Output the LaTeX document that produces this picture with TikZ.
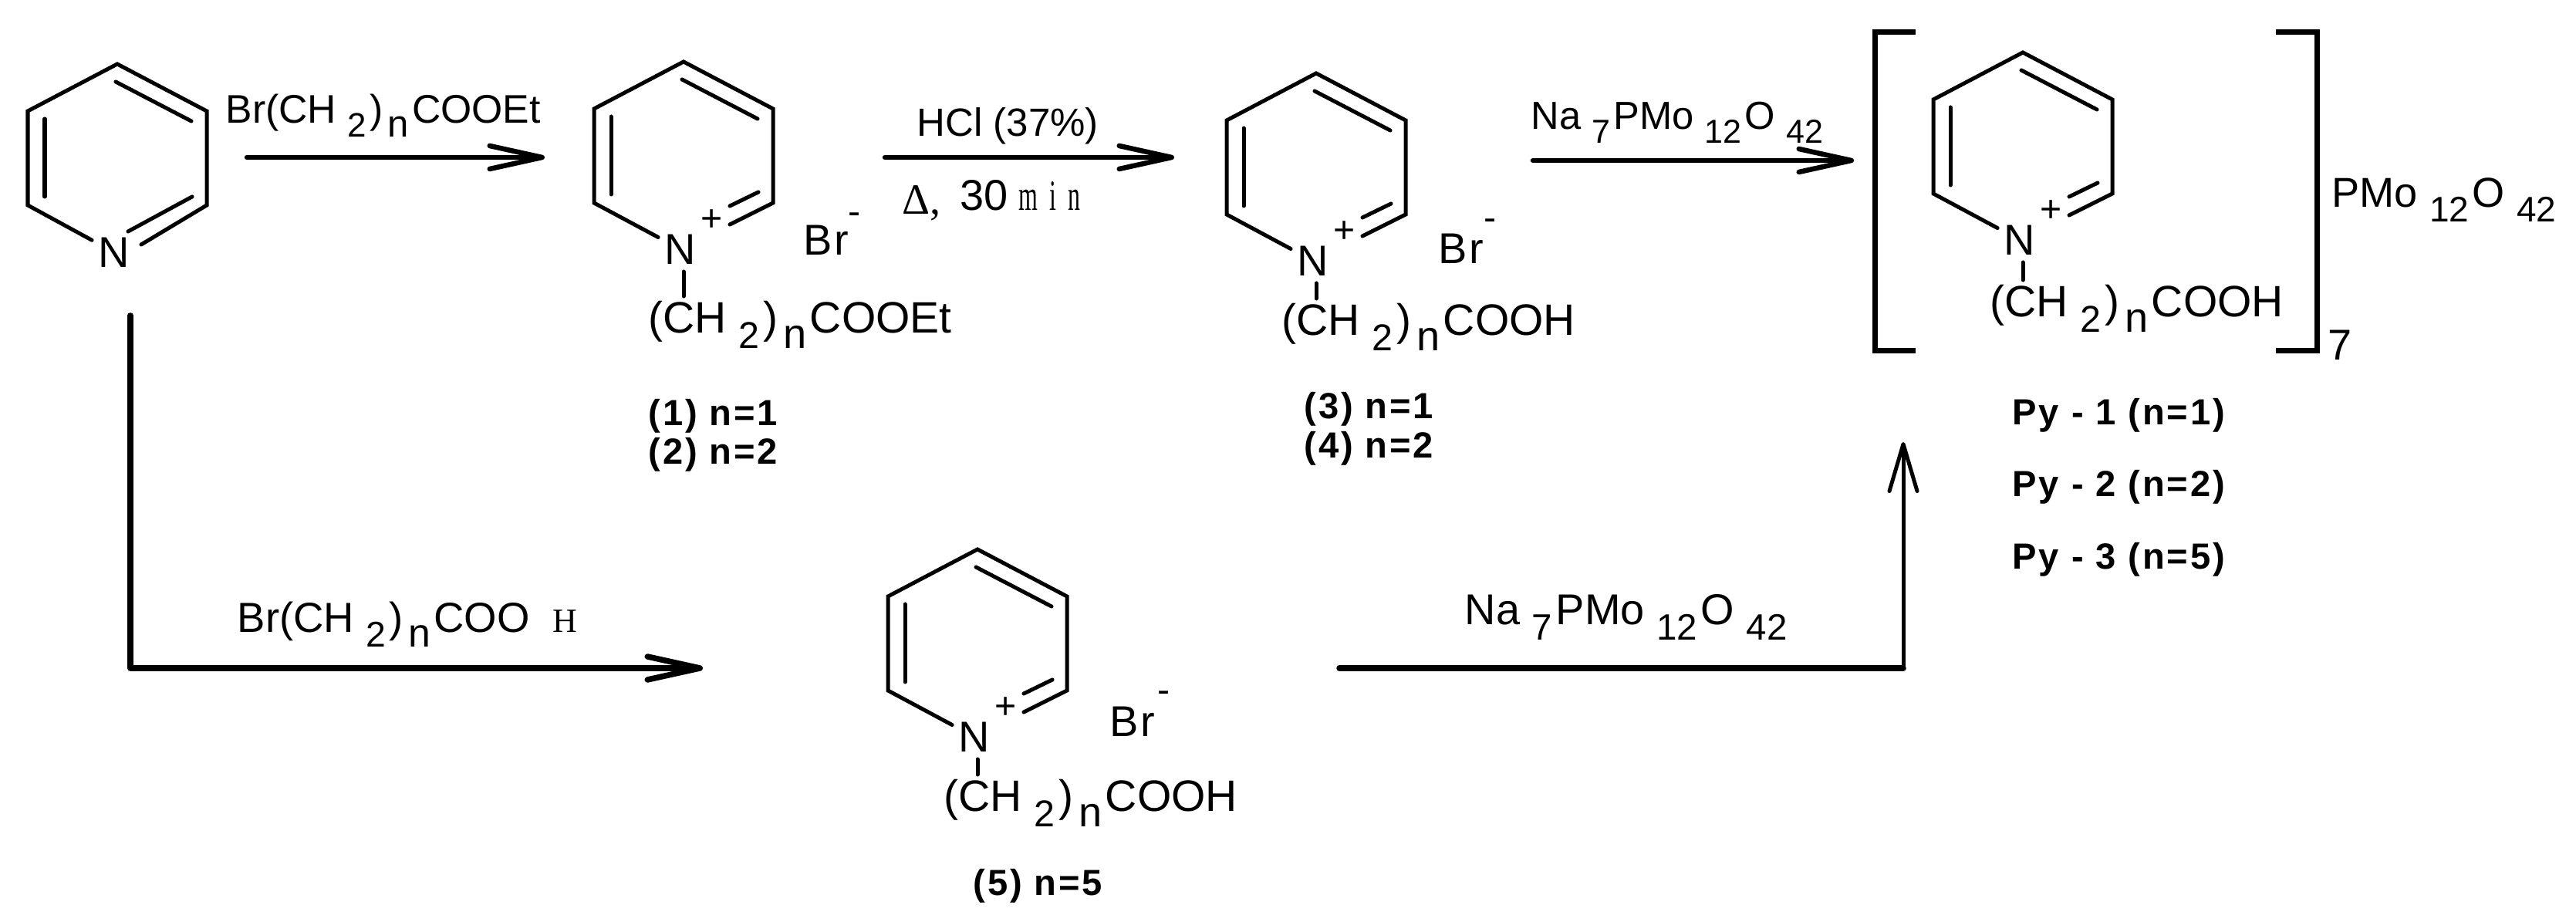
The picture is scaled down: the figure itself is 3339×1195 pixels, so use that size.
\documentclass[tikz,border=0pt]{standalone}
\usepackage{fontspec}
\usepackage{graphicx}
\setmainfont{Liberation Sans}
\newfontfamily\thinserif{Liberation Serif}
\usetikzlibrary{arrows.meta}
\newcommand{\dn}[1]{\kern.28em\raisebox{-.34em}{\scalebox{.85}{#1}}\kern.08em}
\newcommand{\dnn}{\kern.12em\raisebox{-.34em}{\scalebox{.95}{n}}\kern.08em}
\newcommand{\ringbonds}{%
     \coordinate (-T)  at (0,0);
     \coordinate (-UR) at (116,61);
     \coordinate (-LR) at (116,183);
     \coordinate (-LL) at (-116,183);
     \coordinate (-UL) at (-116,61);
     \draw[bond] (-E) -- (-LR) -- (-UR) -- (-T) -- (-UL) -- (-LL) -- (-N);
     \draw[bond] (-2,23) -- (96,74);
     \draw[bond] (-94,71) -- (-94,172);
}
\tikzstyle{bond}=[line width=0.05cm,line cap=round,line join=miter]
\tikzstyle{thickline}=[line width=0.065cm,line cap=round,line join=round]
\tikzstyle{heavyline}=[line width=0.075cm,line cap=round,line join=round]
\tikzstyle{atom}=[inner sep=0.08cm,font=\fontsize{15.9}{16}\selectfont]
\tikzstyle{txt}=[anchor=base west,inner sep=0pt,font=\fontsize{#1}{#1}\selectfont]
\tikzstyle{sgn}=[inner sep=0pt,font=\fontsize{13.7}{14}\selectfont]
\tikzstyle{cmpd}=[anchor=base west,inner sep=0pt,font=\fontsize{13.4}{14}\selectfont\bfseries\addfontfeature{LetterSpace=6}]
\tikzstyle{chain}=[anchor=base west,inner sep=0.06cm,font=\fontsize{16.2}{16}\selectfont]
\tikzset{>={Straight Barb[length=0.68cm,width=0.30cm,round]},
     pyridine/.pic={
          \node[atom] (-N) at (-4,244) {N};
          \coordinate (-E) at (31,234);
          \ringbonds
          \draw[bond] (14,217) -- (97,172);
     },
     cation/.pic={
          \node[atom] (-N) at (-4,243) {N};
          \node[sgn] (-P) at (37,206) {+};
          \coordinate (-E) at (60,211);
          \ringbonds
          \draw[bond] (60,187) -- (97,169);
          \coordinate (-S) at (0,272);
     }}

\begin{document}
\begin{tikzpicture}[x=0.01cm,y=-0.01cm]
     \useasboundingbox (0,0) rectangle (3339,1195);

     % rings
     \pic (r1) at (152,83) {pyridine};
     \pic (r2) at (886,80) {cation};
     \pic (r3) at (1706,95) {cation};
     \pic (r4) at (2622,68) {cation};
     \pic (r5) at (1267,712) {cation};

     % side chains
     \node[chain] (s2) at (834,432) {(CH\dn{2})\dnn COOEt};
     \node[chain] (s3) at (1655,435) {(CH\dn{2})\dnn COOH};
     \node[chain] (s4) at (2573,411) {(CH\dn{2})\dnn COOH};
     \node[chain] (s5) at (1217,1052) {(CH\dn{2})\dnn COOH};
     \draw[bond] (r2-S) -- (r2-S |- s2.north);
     \draw[bond] (r3-S) -- (r3-S |- s3.north);
     \draw[bond] (r4-S) -- (r4-S |- s4.north);
     \draw[bond] (r5-S) -- (r5-S |- s5.north);

     % counter ions
     \node[txt=15.9] (b2) at (1041,331) {B\kern.05em r};
     \node[sgn] (m2) at (1108,283) {-};
     \node[txt=15.9] (b3) at (1864,342) {B\kern.05em r};
     \node[sgn] (m3) at (1931,291) {-};
     \node[txt=15.9] (b5) at (1438,955) {B\kern.05em r};
     \node[sgn] (m5) at (1509,903) {-};

     % compound labels
     \node[cmpd] (c1) at (840,552) {(1) n=1};
     \node[cmpd] (c2) at (840,602) {(2) n=2};
     \node[cmpd] (c3) at (1690,543) {(3) n=1};
     \node[cmpd] (c4) at (1690,594) {(4) n=2};
     \node[cmpd] (c5) at (1261,1160) {(5) n=5};
     \node[cmpd] (p1) at (2608,551) {Py - 1 (n=1)};
     \node[cmpd] (p2) at (2608,644) {Py - 2 (n=2)};
     \node[cmpd] (p3) at (2608,738) {Py - 3 (n=5)};

     % bracket
     \draw[line width=0.07cm,line join=miter] (2483,42) -| (2430,455) -- (2483,455);
     \draw[line width=0.07cm,line join=miter] (2950,42) -| (3003,455) -- (2950,455);
     \node[txt=15.9] (n7) at (3017,467) {7};
     \node[txt=15.4] (anion) at (3022,269) {PMo\dn{12}O\dn{42}};

     % upper arrows
     \coordinate (a1) at (320,204);
     \coordinate (a2) at (706,204);
     \draw[thickline,->] (a1) -- (a2);
     \node[txt=14.7] (t1) at (292,160) {Br(CH\dn{2})\dnn COOEt};
     \coordinate (a3) at (1147,204);
     \coordinate (a4) at (1522,204);
     \draw[thickline,->] (a3) -- (a4);
     \node[txt=14.5] (t2) at (1188,177) {HCl (37\%)};
     \node[txt=15.9] (t3) at (1179,278) {{\thinserif $\!$Δ,}\kern.45em\raisebox{.1em}{30\kern.25em{\thinserif\scalebox{.57}[1]{m\kern.47em i\kern.47em n}}}};
     \coordinate (a5) at (1987,208);
     \coordinate (a6) at (2403,208);
     \draw[thickline,->] (a5) -- (a6);
     \node[txt=14.4] (t4) at (1984,168) {Na\dn{7}PMo\dn{12}O\dn{42}};

     % lower route
     \coordinate (l1) at (169,409);
     \coordinate (l2) at (911,866);
     \draw[heavyline,->] (l1) |- (l2);
     \node[txt=15.5] (t5) at (307,820) {Br(CH\dn{2})\dnn COO\kern.55em{\thinserif\fontsize{12.5}{13}\selectfont H}};
     \coordinate (l3) at (1736,866);
     \coordinate (l4) at (2467,866);
     \coordinate (l5) at (2467,573);
     \draw[heavyline] (l3) -- (l4);
     \draw[bond,-{Straight Barb[length=0.61cm,width=0.36cm,round]}] (l4) -- (l5);
     \node[txt=15.9] (t6) at (1898,810) {Na\dn{7}PMo\dn{12}O\dn{42}};
\end{tikzpicture}
\end{document}
